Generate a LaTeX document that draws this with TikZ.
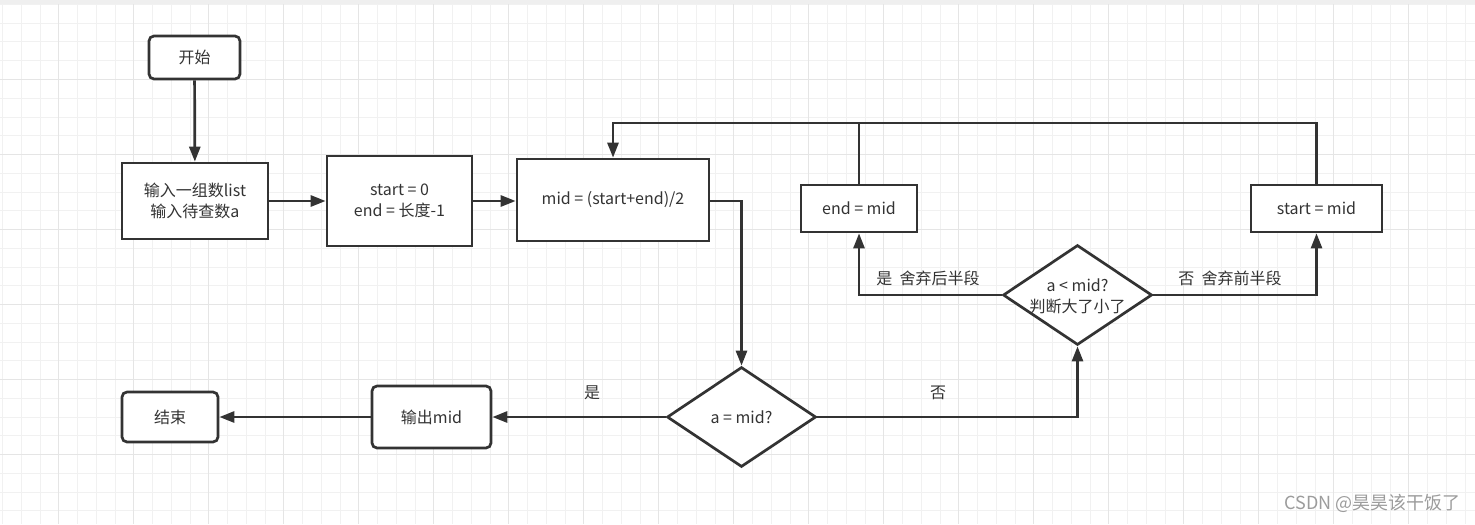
\documentclass[tikz,border=0pt]{standalone}
\usepackage{fontspec}
\setmainfont{Noto Sans CJK SC}
\usetikzlibrary{shapes.geometric,arrows.meta}
\definecolor{ink}{HTML}{333333}
\definecolor{gridminor}{HTML}{F1F1F1}
\definecolor{gridmajor}{HTML}{E5E5E5}
\definecolor{band}{HTML}{EFEFEF}
\definecolor{mark}{HTML}{9C9C9C}
\begin{document}
\begin{tikzpicture}[x=0.5pt,y=-0.5pt,
    font=\fontsize{8}{10.5}\selectfont, text=ink,
    tbox/.style={draw=ink, line width=1.35pt, fill=white, inner sep=0pt, align=center},
    rbox/.style={tbox, rounded corners=2.5pt},
    dec/.style={draw=ink, line width=1.35pt, fill=white, diamond, inner sep=0pt},
    flow/.style={draw=ink, line width=1.35pt, -{Triangle[length=7.5pt,width=5.5pt]}},
    lbl/.style={inner sep=0pt}]
    \useasboundingbox (0,0) rectangle (1475,524);

    % Draw background grid
    \fill[white] (0,0) rectangle (1475,524);
    \foreach \i in {0,...,78} {
        \draw[gridminor, line width=0.5pt] ({2.7+18.75*\i},4) -- ({2.7+18.75*\i},524);
    }
    \foreach \j in {0,...,27} {
        \draw[gridminor, line width=0.5pt] (0,{4.5+18.75*\j}) -- (1475,{4.5+18.75*\j});
    }
    \foreach \i in {3,7,...,75} {
        \draw[gridmajor, line width=0.5pt] ({2.7+18.75*\i},4) -- ({2.7+18.75*\i},524);
    }
    \foreach \j in {4,8,...,24} {
        \draw[gridmajor, line width=0.5pt] (0,{4.5+18.75*\j}) -- (1475,{4.5+18.75*\j});
    }
    \fill[band] (0,0) rectangle (1475,4);

    % Steps
    \node[rbox, minimum width=45.5pt, minimum height=21.5pt] (begin) at (194.5,57.5) {开始};
    \node[tbox, minimum width=73pt, minimum height=38pt] (input) at (195,201) {输入一组数list\\输入待查数a};
    \node[tbox, minimum width=72.5pt, minimum height=45pt] (init) at (399.5,201) {start = 0\\end = 长度-1};
    \node[tbox, minimum width=96pt, minimum height=41pt] (mid) at (613,200) {mid = (start+end)/2};
    \node[tbox, minimum width=58pt, minimum height=23.5pt] (setend) at (859,208.5) {end = mid};
    \node[tbox, minimum width=65.5pt, minimum height=23.5pt] (setstart) at (1316.5,208.5) {start = mid};
    \node[rbox, minimum width=59.5pt, minimum height=31pt] (output) at (431.5,417) {输出mid};
    \node[rbox, minimum width=48pt, minimum height=25pt] (finish) at (170,417) {结束};

    % Decisions
    \node[dec, minimum width=74.5pt, minimum height=50pt] (cmp) at (1077.5,295) {};
    \node[lbl, align=center] (cmptext) at (1077.5,296) {a < mid?\\判断大了小了};
    \node[dec, minimum width=74.5pt, minimum height=50pt] (eq) at (741.5,417) {};
    \node[lbl] (eqtext) at (741.5,417) {a = mid?};

    % Connectors
    \coordinate (looptop) at (613,123);
    \draw[flow] (begin) -- (input);
    \draw[flow] (input) -- (input -| init.west);
    \draw[flow] (init) -- (init -| mid.west);
    \draw[flow] (mid.east |- init) -| (eq.north);
    \draw[flow] (eq.west) -- (output.east);
    \draw[flow] (output) -- (finish);
    \draw[flow] (eq.east) -| (cmp.south);
    \draw[flow] (cmp.west) -| (setend.south);
    \draw[flow] (cmp.east) -| (setstart.south);
    \draw[flow] (setstart.north) |- (looptop) -- (mid.north);
    \draw[ink, line width=1.35pt] (setend.north) -- (setend.north |- looptop);

    % Labels
    \node[lbl] (yes1) at (592,393) {是};
    \node[lbl] (no1) at (938,393) {否};
    \node[lbl] (yes2) at (928,278) {是\ \ 舍弃后半段};
    \node[lbl] (no2) at (1230,278) {否\ \ 舍弃前半段};
    \node[lbl, anchor=east, text=mark, font=\fontsize{9}{11}\selectfont] (credit) at (1461,503) {CSDN @昊昊该干饭了};
\end{tikzpicture}
\end{document}
